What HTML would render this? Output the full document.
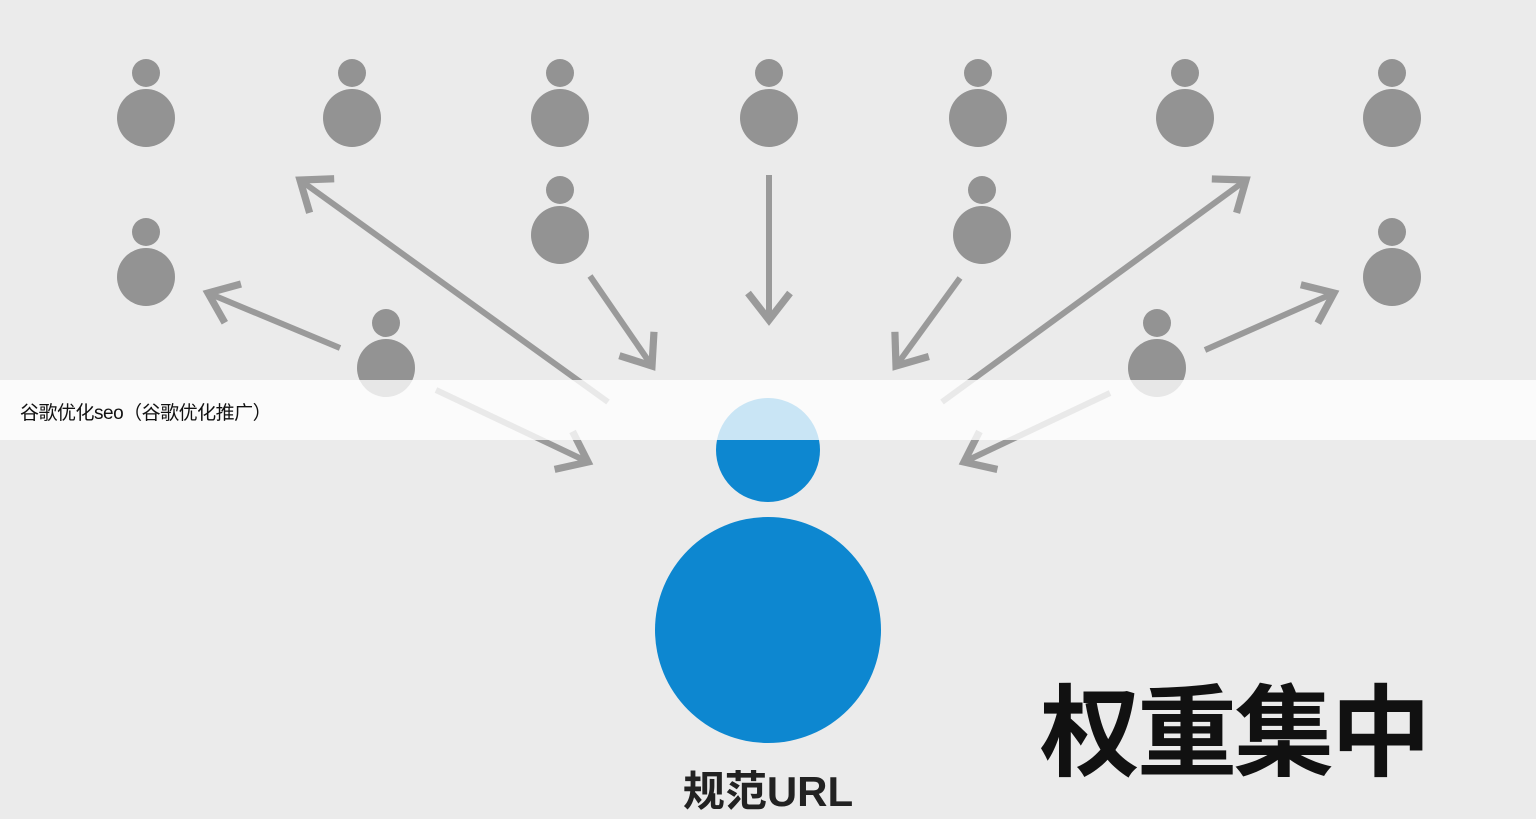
<!DOCTYPE html>
<html><head><meta charset="utf-8"><style>
html,body{margin:0;padding:0;width:1536px;height:819px;overflow:hidden;background:#ebebeb}
svg{position:absolute;left:0;top:0}
.banner{position:absolute;left:0;top:380px;width:1536px;height:60px;background:rgba(255,255,255,0.78)}
.bt{position:absolute;left:20px;top:398px;font:19px "Liberation Sans","Noto Sans CJK SC",sans-serif;color:#111;letter-spacing:-0.5px}
.big{position:absolute;left:1040px;top:652px;font:bold 100px "Liberation Sans","Noto Sans CJK SC",sans-serif;color:#111;letter-spacing:-3px}
.url{position:absolute;left:668px;top:758px;width:200px;text-align:center;font:bold 42px "Liberation Sans","Noto Sans CJK SC",sans-serif;color:#222}
</style></head><body>
<svg width="1536" height="819" viewBox="0 0 1536 819">
<defs><marker id="a" markerWidth="10" markerHeight="10" refX="6" refY="5" orient="auto" markerUnits="strokeWidth"><path d="M1.5,1.5 L6,5 L1.5,8.5" fill="none" stroke="#9a9a9a" stroke-width="1.2"/></marker></defs>
<g fill="#939393">
<circle cx="146" cy="73" r="14"/><circle cx="146" cy="118" r="29"/>
<circle cx="352" cy="73" r="14"/><circle cx="352" cy="118" r="29"/>
<circle cx="560" cy="73" r="14"/><circle cx="560" cy="118" r="29"/>
<circle cx="769" cy="73" r="14"/><circle cx="769" cy="118" r="29"/>
<circle cx="978" cy="73" r="14"/><circle cx="978" cy="118" r="29"/>
<circle cx="1185" cy="73" r="14"/><circle cx="1185" cy="118" r="29"/>
<circle cx="1392" cy="73" r="14"/><circle cx="1392" cy="118" r="29"/>
<circle cx="146" cy="232" r="14"/><circle cx="146" cy="277" r="29"/>
<circle cx="560" cy="190" r="14"/><circle cx="560" cy="235" r="29"/>
<circle cx="982" cy="190" r="14"/><circle cx="982" cy="235" r="29"/>
<circle cx="1392" cy="232" r="14"/><circle cx="1392" cy="277" r="29"/>
<circle cx="386" cy="323" r="14"/><circle cx="386" cy="368" r="29"/>
<circle cx="1157" cy="323" r="14"/><circle cx="1157" cy="368" r="29"/>
</g>
<g stroke="#9a9a9a" stroke-width="6" fill="none" marker-end="url(#a)">
<line x1="608" y1="402" x2="300" y2="180"/>
<line x1="340" y1="348" x2="208" y2="293"/>
<line x1="590" y1="276" x2="652" y2="366"/>
<line x1="769" y1="175" x2="769" y2="320"/>
<line x1="960" y1="278" x2="896" y2="366"/>
<line x1="942" y1="402" x2="1246" y2="180"/>
<line x1="1205" y1="350" x2="1334" y2="293"/>
<line x1="436" y1="390" x2="588" y2="462"/>
<line x1="1110" y1="393" x2="964" y2="462"/>
</g>
<g fill="#0d87d0">
<circle cx="768" cy="450" r="52"/>
<circle cx="768" cy="630" r="113"/>
</g>
</svg>
<div class="banner"></div>
<div class="bt">谷歌优化seo（谷歌优化推广）</div>
<div class="big">权重集中</div>
<div class="url">规范URL</div>
</body></html>
